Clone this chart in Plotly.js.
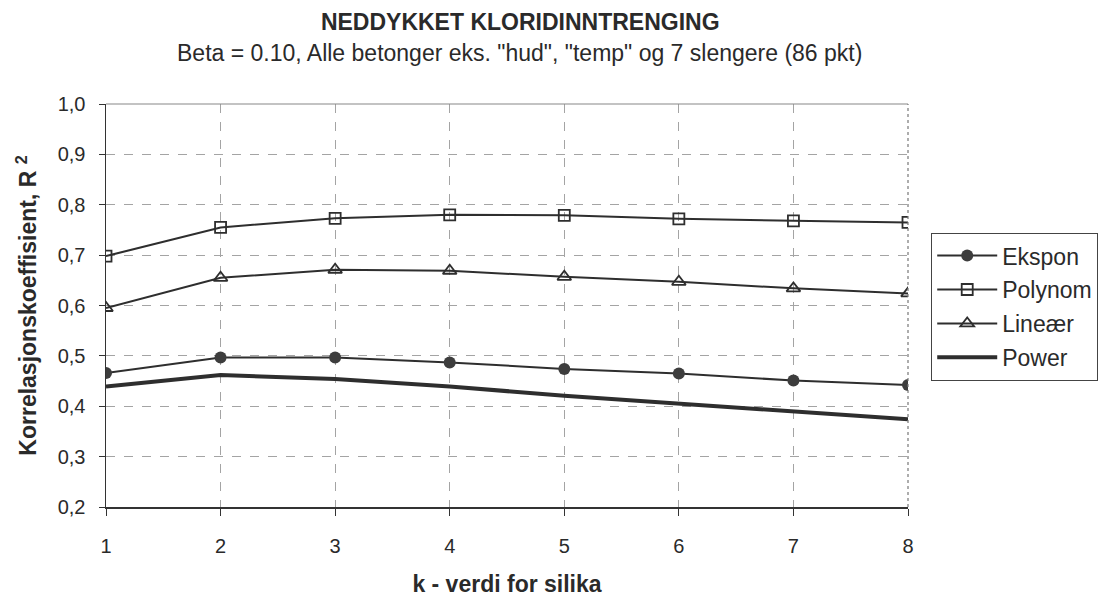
<!DOCTYPE html>
<html>
<head>
<meta charset="utf-8">
<script src="https://cdn.plot.ly/plotly-3.0.1.min.js"></script>
<style>html,body{margin:0;padding:0;background:#fff;}#chart{width:1114px;height:597px;}</style>
</head>
<body>
<div id="chart"></div>
<script>
const kValues = [1, 2, 3, 4, 5, 6, 7, 8];
const ekspon  = [0.466, 0.497, 0.497, 0.487, 0.474, 0.465, 0.451, 0.442];
const polynom = [0.698, 0.755, 0.773, 0.780, 0.779, 0.772, 0.768, 0.765];
const linear  = [0.595, 0.655, 0.671, 0.669, 0.657, 0.647, 0.634, 0.624];
const power   = [0.439, 0.462, 0.454, 0.439, 0.421, 0.405, 0.388, 0.374];
const seriesNames = ['Ekspon', 'Polynom', 'Lineær', 'Power'];
const yTicks = [0.2, 0.3, 0.4, 0.5, 0.6, 0.7, 0.8, 0.9, 1.0];
const titleText = 'NEDDYKKET KLORIDINNTRENGING';
const subtitleText = 'Beta = 0.10, Alle betonger eks. "hud", "temp" og 7 slengere (86 pkt)';
const xTitle = 'k - verdi for silika';
const yTitle = 'Korrelasjonskoeffisient, R <sup>2</sup>';

const FONT = 'Liberation Sans, Arial, sans-serif';
const LINE = '#2e2e2e';
const TXT = '#2a2a2a';

const traces = [
  {x: kValues, y: ekspon, name: seriesNames[0], legendgroup: 'a', mode: 'lines+markers',
   line: {color: LINE, width: 2}, marker: {symbol: 'circle', size: 12, color: '#3d3d3d'}},
  {x: kValues, y: polynom, name: seriesNames[1], legendgroup: 'b', mode: 'lines+markers',
   line: {color: LINE, width: 2}, marker: {symbol: 'square-open', size: 11, color: LINE, line: {width: 1.8}}},
  {x: kValues, y: linear, name: seriesNames[2], legendgroup: 'c', mode: 'lines+markers',
   line: {color: LINE, width: 2}, marker: {symbol: 'triangle-up-open', size: 12, color: LINE, line: {width: 1.8}}},
  {x: kValues, y: power, name: seriesNames[3], legendgroup: 'd', mode: 'lines',
   line: {color: LINE, width: 4}}
];

const layout = {
  width: 1114, height: 597,
  paper_bgcolor: '#ffffff', plot_bgcolor: '#ffffff',
  separators: ', ',
  font: {family: FONT, size: 20, color: TXT},
  margin: {l: 106, r: 206, t: 104, b: 90},
  title: {
    text: '<b>' + titleText + '</b>',
    font: {family: FONT, size: 23, color: TXT},
    x: 0.467, xanchor: 'center', xref: 'container',
    y: 0.9637, yanchor: 'middle', yref: 'container'
  },
  annotations: [
    {text: subtitleText, xref: 'paper', yref: 'paper', x: 0.515, y: 1.1266,
     xanchor: 'center', yanchor: 'middle', showarrow: false,
     font: {family: FONT, size: 23, color: TXT}}
  ],
  xaxis: {
    range: [1, 8], tickvals: kValues, ticktext: kValues.map(String),
    showline: true, linecolor: '#333333', linewidth: 1.5,
    ticks: 'outside', ticklen: 7, tickcolor: '#333333',
    ticklabelstandoff: 13,
    showgrid: true, gridcolor: '#a4a4a4', griddash: 'dash', gridwidth: 1,
    zeroline: false,
    tickfont: {family: FONT, size: 20, color: TXT},
    title: {text: '<b>' + xTitle + '</b>', font: {family: FONT, size: 23, color: TXT}, standoff: 20}
  },
  yaxis: {
    range: [0.2, 1.0], tickvals: yTicks, tickformat: '.1f',
    showline: true, linecolor: '#333333', linewidth: 1.5,
    ticks: 'outside', ticklen: 6, tickcolor: '#333333',
    ticklabelstandoff: 9,
    showgrid: true, gridcolor: '#a4a4a4', griddash: 'dash', gridwidth: 1,
    zeroline: false,
    tickfont: {family: FONT, size: 20, color: TXT},
    title: {text: '<b>' + yTitle + '</b>', font: {family: FONT, size: 23, color: TXT}, standoff: 14}
  },
  shapes: [
    {type: 'line', xref: 'paper', yref: 'paper', x0: 0, x1: 1, y0: 1, y1: 1, line: {color: '#888888', width: 1.2}},
    {type: 'line', xref: 'paper', yref: 'paper', x0: 1, x1: 1, y0: 0, y1: 1, line: {color: '#777777', width: 1.2, dash: 'dot'}}
  ],
  legend: {
    x: 1.0287, xanchor: 'left', y: 0.68, yanchor: 'top',
    bordercolor: '#444444', borderwidth: 1.2, bgcolor: '#ffffff',
    font: {family: FONT, size: 23, color: TXT},
    tracegroupgap: 1, itemwidth: 60
  },
  showlegend: true
};

Plotly.newPlot('chart', traces, layout, {staticPlot: true});
</script>
</body>
</html>
